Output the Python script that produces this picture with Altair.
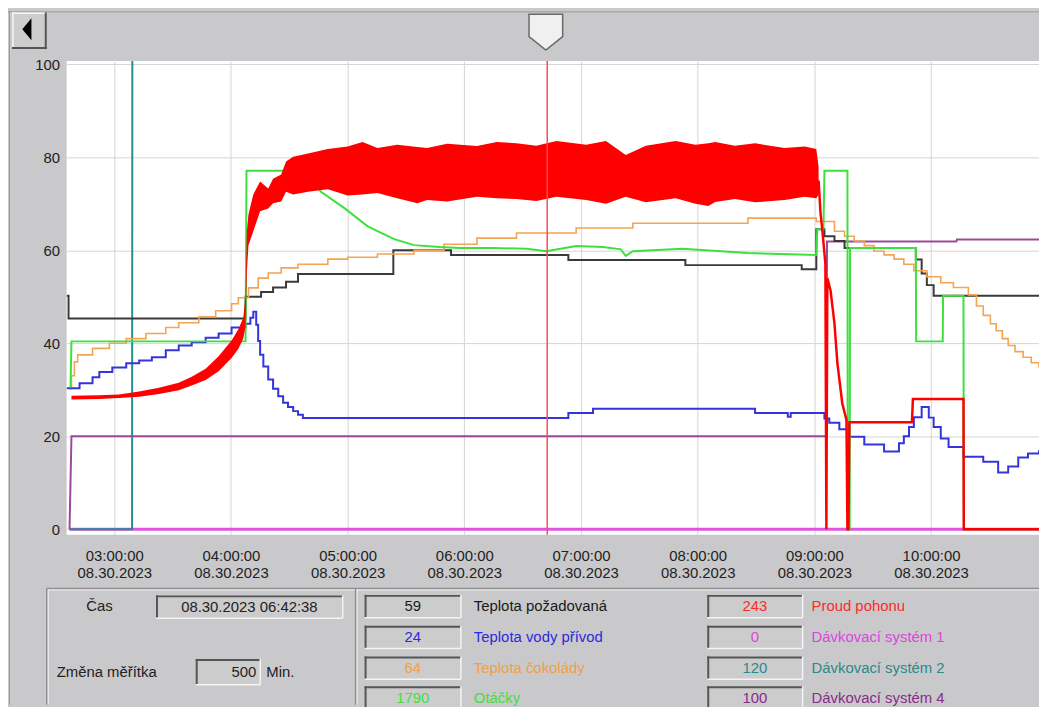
import altair as alt
import pandas as pd

# ---------------- values ----------------
DATE_LABEL = "08.30.2023"
X_START, X_END = "02:35:30", "10:55:30"
HOUR_TICKS = ["03:00", "04:00", "05:00", "06:00", "07:00", "08:00", "09:00", "10:00"]
Y_TICKS = [0, 20, 40, 60, 80, 100]
Y_MIN, Y_MAX = -1.2, 100.7
CURSOR_TIME = "06:42:38"
CURSOR_LABEL = "08.30.2023 06:42:38"
TIME_LABEL = "Čas"
SCALE_LABEL = "Změna měřítka"
SCALE_VALUE = "500"
SCALE_UNIT = "Min."

LEGEND_LEFT_NAMES = ["Teplota požadovaná", "Teplota vody přívod", "Teplota čokolády", "Otáčky"]
LEGEND_LEFT_VALUES = ["59", "24", "64", "1790"]
LEGEND_RIGHT_NAMES = ["Proud pohonu", "Dávkovací systém 1", "Dávkovací systém 2", "Dávkovací systém 4"]
LEGEND_RIGHT_VALUES = ["243", "0", "120", "100"]

# Teplota požadovaná (stepped)
req_t = ["02:35:30", "02:36:30", "04:07:30", "04:15:30", "04:21:40", "04:28:20", "04:34:30", "05:23:30",
         "05:53:10", "06:53:30", "07:53:40", "08:53:30", "09:01:00", "09:05:10", "09:10:20", "09:15:30",
         "09:52:10", "09:55:10", "09:57:50", "10:01:20", "10:55:30"]
req_v = [50.2, 45.3, 50.0, 51.0, 52.0, 53.2, 54.9, 60.0,
         59.0, 57.9, 56.8, 55.9, 64.5, 63.0, 62.0, 60.5,
         58.0, 55.0, 52.5, 50.2, 50.2]

# Teplota vody přívod (stepped)
water_t = ["02:35:30", "02:42:10", "02:48:50", "02:52:20", "02:59:00", "03:06:10", "03:12:50", "03:19:20",
           "03:26:30", "03:33:10", "03:39:50", "03:47:00", "03:53:40", "04:00:20", "04:07:30", "04:10:00",
           "04:11:30", "04:13:00", "04:14:00", "04:15:00", "04:16:40", "04:19:10", "04:21:40", "04:24:20",
           "04:26:50", "04:29:20", "04:32:00", "04:34:30", "04:37:00", "06:53:30", "07:06:10", "08:29:30",
           "08:46:20", "08:47:50", "09:05:10", "09:07:40", "09:12:50", "09:18:00", "09:25:40", "09:35:50",
           "09:43:30", "09:46:00", "09:48:40", "09:51:10", "09:55:10", "09:58:50", "10:01:20", "10:05:00",
           "10:09:00", "10:16:40", "10:26:50", "10:34:30", "10:39:40", "10:44:50", "10:49:50", "10:55:30"]
water_v = [30.3, 31.4, 32.7, 33.8, 34.8, 35.7, 36.3, 37.0,
           38.5, 39.5, 40.2, 41.2, 42.1, 43.4, 44.2, 45.5,
           46.8, 44.0, 40.5, 37.5, 35.0, 32.2, 30.2, 28.6,
           27.2, 26.3, 25.4, 24.6, 23.9, 25.0, 25.9, 25.0,
           24.2, 25.0, 23.8, 22.9, 21.5, 19.9, 18.2, 16.7,
           18.5, 20.0, 22.0, 24.1, 26.3, 24.0, 22.0, 19.5,
           17.7, 15.6, 14.5, 12.2, 13.5, 15.4, 16.3, 17.0]

# Teplota čokolády (stepped)
choc_t = ["02:37:00", "02:38:00", "02:39:30", "02:41:10", "02:48:50", "02:57:30", "03:06:10", "03:16:20",
          "03:26:30", "03:33:10", "03:43:30", "03:52:10", "04:00:20", "04:03:50", "04:09:00", "04:14:00",
          "04:19:10", "04:25:50", "04:34:30", "04:49:50", "05:00:00", "05:15:20", "05:34:10", "05:49:30",
          "06:06:30", "06:26:50", "06:57:30", "07:26:40", "08:25:50", "09:01:00", "09:10:20", "09:15:30",
          "09:20:30", "09:25:40", "09:30:40", "09:35:50", "09:41:00", "09:46:00", "09:51:10", "09:57:50",
          "10:05:00", "10:11:30", "10:19:10", "10:23:20", "10:26:50", "10:30:30", "10:33:30", "10:36:40",
          "10:39:40", "10:43:10", "10:47:20", "10:51:30", "10:55:30"]
choc_v = [30.3, 33.0, 36.0, 37.5, 38.9, 40.0, 41.0, 42.1,
          43.4, 44.4, 45.7, 47.0, 48.5, 49.8, 51.9, 54.0,
          55.1, 56.2, 57.0, 58.1, 58.5, 59.2, 60.0, 61.3,
          62.6, 63.7, 64.8, 65.8, 66.9, 66.2, 64.1, 63.0,
          62.0, 61.0, 59.8, 59.0, 58.1, 57.0, 55.6, 54.3,
          53.0, 52.0, 50.4, 48.0, 46.0, 44.2, 42.7, 41.0,
          39.5, 38.2, 37.0, 35.8, 34.8]

# Otáčky
speed_t = ["02:37:30", "02:38:00", "04:07:30", "04:08:00", "04:39:40", "04:46:10", "04:58:30", "05:10:10",
           "05:15:20", "05:24:00", "05:34:10", "05:47:30", "05:57:50", "06:15:10", "06:32:00", "06:42:10",
           "06:57:30", "07:11:20", "07:20:30", "07:23:00", "07:26:40", "07:52:10", "08:25:50", "09:01:00",
           "09:01:30", "09:04:40", "09:05:10", "09:17:00", "09:17:10", "09:18:10", "09:18:20", "09:52:10",
           "09:52:20", "10:06:00", "10:06:10", "10:16:40", "10:16:50", "10:55:30"]
speed_v = [30.5, 40.4, 40.4, 77.1, 77.1, 72.6, 69.0, 65.2,
           64.1, 62.4, 61.1, 60.7, 60.5, 60.5, 60.3, 59.8,
           60.9, 60.7, 60.2, 58.8, 59.8, 60.3, 59.4, 59.0,
           64.5, 64.5, 77.1, 77.1, 0.0, 0.0, 60.5, 60.5,
           40.4, 40.4, 50.2, 50.2, 0.0, 0.0]

# Proud pohonu: envelope of the noisy part, then the single trace
drive_band_t = ["02:38:00", "02:52:20", "03:02:30", "03:12:50", "03:23:00", "03:33:10", "03:39:50", "03:47:00",
                "03:53:40", "04:00:20", "04:03:50", "04:06:20", "04:07:30", "04:08:10", "04:09:00", "04:11:30",
                "04:15:00", "04:19:10", "04:21:40", "04:25:50", "04:28:20", "04:32:00", "04:39:40", "04:49:50",
                "05:00:00", "05:07:40", "05:15:20", "05:25:30", "05:35:50", "05:40:50", "05:51:10", "06:06:30",
                "06:16:40", "06:26:50", "06:37:00", "06:47:20", "07:02:40", "07:12:50", "07:23:00", "07:33:20",
                "07:48:40", "07:58:50", "08:05:30", "08:09:00", "08:19:10", "08:29:30", "08:44:40", "08:55:00",
                "09:01:00", "09:02:10"]
drive_lo = [27.9, 28.0, 28.2, 28.5, 29.1, 29.9, 30.9, 32.1,
            34.0, 36.8, 38.8, 41.0, 43.5, 55.0, 61.0, 64.1,
            68.4, 69.0, 70.1, 70.5, 72.6, 72.0, 72.6, 73.1,
            71.8, 72.0, 72.3, 71.2, 70.1, 70.8, 70.5, 71.5,
            71.2, 71.0, 70.6, 71.5, 70.8, 70.0, 71.5, 70.3,
            71.2, 70.0, 69.5, 70.4, 71.0, 70.3, 70.8, 71.5,
            71.2, 72.0]
drive_hi = [28.7, 28.8, 29.0, 29.6, 30.4, 31.5, 32.8, 34.5,
            37.2, 40.6, 43.0, 45.5, 50.0, 64.0, 67.7, 72.0,
            74.8, 73.3, 75.4, 76.3, 79.1, 80.1, 80.8, 81.8,
            82.3, 83.3, 82.0, 82.7, 82.2, 82.0, 82.9, 82.4,
            83.3, 83.0, 82.5, 83.5, 82.7, 83.5, 80.5, 82.5,
            83.5, 82.7, 83.0, 83.3, 82.5, 83.0, 82.0, 82.3,
            81.8, 78.0]
drive_t = ["09:02:10", "09:03:10", "09:04:10", "09:05:40", "09:06:10", "09:06:40", "09:08:20", "09:10:20",
           "09:11:50", "09:14:20", "09:16:30", "09:17:00", "09:17:30", "09:18:00", "09:50:10", "09:50:40",
           "10:16:40", "10:16:50", "10:55:30"]
drive_v = [75.0, 68.0, 64.0, 57.0, 0.0, 54.0, 51.3, 44.2,
           35.7, 27.1, 23.5, 0.0, 0.0, 23.0, 23.0, 28.0,
           28.0, 0.0, 0.0]

# Dávkovací systémy
sys1_t = ["02:37:00", "10:55:30"]
sys1_v = [0.0, 0.0]
sys2_t = ["02:37:00", "03:09:10", "03:09:20", "10:55:30"]
sys2_v = [0.0, 0.0, 120.0, 120.0]
sys4_t = ["02:37:00", "02:38:00", "09:06:10", "09:06:30", "10:13:00", "10:13:20", "10:55:30"]
sys4_v = [0.0, 20.0, 20.0, 61.9, 61.9, 62.3, 62.3]

# ---------------- styles ----------------
FONT = "Liberation Sans, Arial, sans-serif"
FS = 15
BG = "#c9c9cb"
GRID = "#d5d5d5"
TXT = "#222222"
C_REQ, C_WATER, C_CHOC, C_SPEED = "#3a3a3a", "#3434dc", "#f3a455", "#3ee03e"
C_DRIVE, C_SYS1, C_SYS2, C_SYS4 = "#ff0000", "#e052e0", "#1f8f8f", "#9a4a9a"
LEFT_COLORS = ["#1a1a1a", "#2a2ae0", "#f0a048", "#44dd44"]
RIGHT_COLORS = ["#ff2a2a", "#dd44dd", "#2a8a8a", "#8a2a8a"]

W, H = 979, 477
TOTAL_H = 699
OX, OY = 67, 59  # page position of the plot origin (decoration placement)


def to_min(s):
    p = [float(v) for v in s.split(":")]
    return p[0] * 60 + p[1] + (p[2] / 60 if len(p) > 2 else 0)


def series(times, values):
    return pd.DataFrame({"t": [to_min(s) for s in times], "v": values, "i": range(len(times))})


xs = alt.Scale(domain=[to_min(X_START), to_min(X_END)], nice=False, zero=False)
ys = alt.Scale(domain=[Y_MIN, Y_MAX], nice=False, zero=False)

x_axis = alt.Axis(
    values=[to_min(h) for h in HOUR_TICKS],
    labelExpr="[(datum.value < 600 ? '0' : '') + floor(datum.value / 60) + ':00:00', '" + DATE_LABEL + "']",
    title=None, grid=True, gridColor=GRID, ticks=False, domain=False,
    labelFont=FONT, labelFontSize=FS, labelColor=TXT, labelPadding=14,
    labelBaseline="top", labelLineHeight=17, labelFlush=False, labelOverlap=False,
)
y_axis = alt.Axis(
    values=Y_TICKS, title=None, grid=True, gridColor=GRID, ticks=False, domain=False,
    labelFont=FONT, labelFontSize=FS, labelColor=TXT, labelPadding=7,
    labelFlush=False, labelOverlap=False,
)
X = alt.X("t:Q", scale=xs, axis=x_axis)
Y = alt.Y("v:Q", scale=ys, axis=y_axis)


def line(times, values, color, width, interp="linear"):
    return alt.Chart(series(times, values)).mark_line(
        color=color, strokeWidth=width, interpolate=interp, clip=True
    ).encode(x=X, y=Y, order="i:Q")


band_df = pd.DataFrame({"t": [to_min(s) for s in drive_band_t], "lo": drive_lo, "hi": drive_hi})
band = alt.Chart(band_df).mark_area(color=C_DRIVE, clip=True, opacity=1).encode(
    x=X, y=alt.Y("lo:Q", scale=ys, axis=y_axis), y2="hi:Q"
)
cursor = alt.Chart(pd.DataFrame({"t": [to_min(CURSOR_TIME)]})).mark_rule(
    color="#ff4a4a", strokeWidth=1.5
).encode(x=X)

data_layers = [
    line(sys1_t, sys1_v, C_SYS1, 3),
    line(sys2_t, sys2_v, C_SYS2, 2),
    line(sys4_t, sys4_v, C_SYS4, 2),
    line(req_t, req_v, C_REQ, 2, "step-after"),
    line(choc_t, choc_v, C_CHOC, 1.6, "step-after"),
    line(water_t, water_v, C_WATER, 2, "step-after"),
    line(speed_t, speed_v, C_SPEED, 2),
    band,
    line(drive_t, drive_v, C_DRIVE, 2.5),
    cursor,
]

# ---------------- window chrome (pixel placement) ----------------
one = pd.DataFrame({"k": [0]})


def d_rect(x0, y0, x1, y1, fill):
    return alt.Chart(one).mark_rect(fill=fill).encode(
        x=alt.value(x0 - OX), x2=alt.value(x1 - OX), y=alt.value(y0 - OY), y2=alt.value(y1 - OY))


def d_h(x0, x1, y, color, w=1.0):
    return alt.Chart(one).mark_rule(color=color, strokeWidth=w).encode(
        x=alt.value(x0 - OX), x2=alt.value(x1 - OX), y=alt.value(y - OY))


def d_v(x, y0, y1, color, w=1.0):
    return alt.Chart(one).mark_rule(color=color, strokeWidth=w).encode(
        x=alt.value(x - OX), y=alt.value(y0 - OY), y2=alt.value(y1 - OY))


def d_text(x, y, s, color=TXT, align="left", size=FS):
    return alt.Chart(one).mark_text(
        text=s, align=align, baseline="middle", font=FONT, fontSize=size, color=color
    ).encode(x=alt.value(x - OX), y=alt.value(y - OY))


def sunken(x0, y0, x1, y1):
    return [d_rect(x0, y0, x1, y1, "#cccccc"),
            d_h(x0, x1, y0 + 1, "#555555", 2), d_v(x0 + 1, y0, y1, "#555555", 2),
            d_h(x0, x1, y1, "#f4f4f4", 1.5), d_v(x1, y0, y1, "#f4f4f4", 1.5)]


def d_shape(x, y, path, size, fill, stroke=None, sw=1.0):
    kw = dict(shape=path, size=size, filled=True, fill=fill, opacity=1)
    if stroke:
        kw.update(stroke=stroke, strokeWidth=sw)
    return alt.Chart(one).mark_point(**kw).encode(x=alt.value(x - OX), y=alt.value(y - OY))


BOTTOM = 8 + TOTAL_H
chrome = [
    d_h(8, 1046, 9.5, "#9a9a9a"), d_v(9.5, 8, BOTTOM, "#9a9a9a"),
    # scroll button
    d_rect(12, 10, 47, 47, "#cdcdcd"),
    d_h(12, 47, 11, "#f5f5f5", 1.5), d_v(13, 10, 47, "#f5f5f5", 1.5),
    d_h(12, 47, 46, "#555555", 2), d_v(46, 10, 47, "#555555", 2),
    d_shape(27, 27, "M0.42,-1 L-0.42,0 L0.42,1 Z", 484, "#000000"),
    # slider
    d_shape(549.5, 30, "M-0.94,-1 L0.94,-1 L0.94,0.25 L0,1 L-0.94,0.25 Z", 1296, "#f0f0f0", "#6a6a6a", 1.5),
    # bottom panel frame
    d_h(47, 1046, 590, "#8e8e8e", 1.5), d_h(48, 1046, 591.5, "#f2f2f2", 1),
    d_v(47, 590, BOTTOM, "#8e8e8e", 1.5), d_v(48.5, 591, BOTTOM, "#f2f2f2", 1),
    d_v(358, 590, BOTTOM, "#8e8e8e", 1.5), d_v(359.5, 591, BOTTOM, "#f2f2f2", 1),
    d_text(100, 608, TIME_LABEL, align="center"),
    d_text(57, 674, SCALE_LABEL),
    d_text(268, 674, SCALE_UNIT),
]
chrome += sunken(157, 597, 345, 620)
chrome.append(d_text(251, 609, CURSOR_LABEL, align="center"))
chrome += sunken(197, 661, 262, 687)
chrome.append(d_text(258, 674, SCALE_VALUE, align="right"))

ROWS = [608, 639, 670, 700]
for r, name, val, col in zip(ROWS, LEGEND_LEFT_NAMES, LEGEND_LEFT_VALUES, LEFT_COLORS):
    chrome += sunken(367, r - 11.5, 464, r + 11.5)
    chrome.append(d_text(415.5, r, val, color=col, align="center"))
    chrome.append(d_text(477, r, name, color=col))
for r, name, val, col in zip(ROWS, LEGEND_RIGHT_NAMES, LEGEND_RIGHT_VALUES, RIGHT_COLORS):
    chrome += sunken(712, r - 11.5, 808, r + 11.5)
    chrome.append(d_text(760, r, val, color=col, align="center"))
    chrome.append(d_text(817, r, name, color=col))

chart = alt.layer(*data_layers, *chrome).properties(
    width=W, height=H,
    padding={"left": 59, "top": 51, "right": 0, "bottom": TOTAL_H - 51 - H},
    autosize=alt.AutoSizeParams(type="none"),
    background=BG,
).configure_view(fill="white", stroke=None)

chart.save("out.html", embed_options={"renderer": "svg", "actions": False})
